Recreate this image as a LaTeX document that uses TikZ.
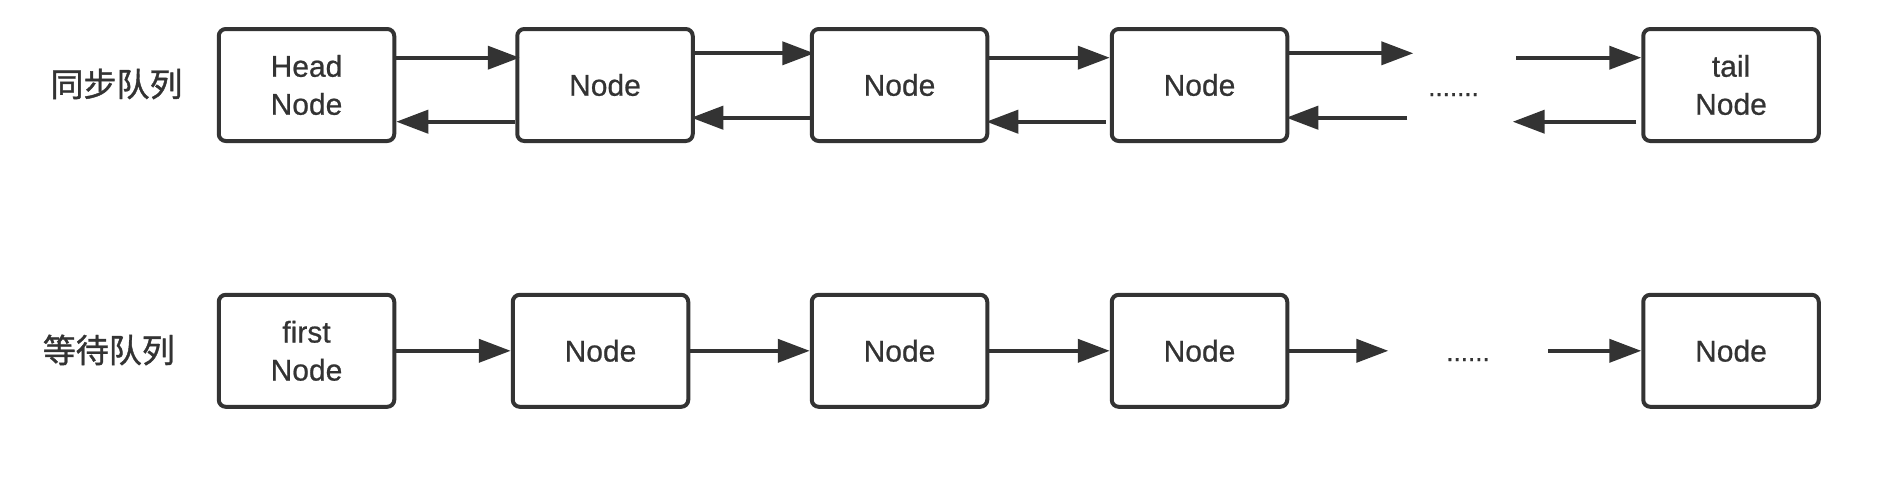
\documentclass[tikz,border=0pt]{standalone}
\usepackage{fontspec}
\setmainfont{Liberation Sans}
\newfontface\nodefont[FakeBold=0.7]{Liberation Sans}
\newfontface\cjk[FakeBold=1.2]{Noto Sans CJK SC}
\usetikzlibrary{arrows.meta}
\definecolor{ink}{HTML}{333333}
\begin{document}
\begin{tikzpicture}[x=1pt,y=-1pt,
  box/.style={draw=ink, line width=4pt, rounded corners=7pt, minimum width=175.5pt, minimum height=112pt, inner sep=0pt, align=center, font=\nodefont\fontsize{30}{38}\selectfont, text=ink},
  arr/.style={draw=ink, line width=4pt, -{Triangle[length=32pt,width=23pt]}},
  lab/.style={font=\cjk\fontsize{33}{40}\selectfont, text=ink},
  ellip/.style={font=\nodefont\fontsize{26}{30}\selectfont, text=ink, anchor=base, inner sep=0pt}]
\useasboundingbox (0,0) rectangle (1896,480);
% labels
\node[lab] (l1) at (116.5,84) {同步队列};
\node[lab] (l2) at (108.8,350) {等待队列};
% top row
\node[box] (h) at (306.5,85) {Head\\Node};
\node[box] (s2) at (605,85) {Node};
\node[box] (s3) at (899.5,85) {Node};
\node[box] (s4) at (1199.5,85) {Node};
\node[box] (t) at (1731,85) {tail\\Node};
\node[ellip] (d1) at (1453.5,96) {.......};
\coordinate (g1) at (1413.3,53.3);
\coordinate (g2) at (1516,57.7);
\coordinate (g3) at (1407.3,117.7);
\coordinate (g4) at (1512.7,121.7);
\draw[arr, shorten >=-4.5pt] ([yshift=27.3pt]h.east) -- ([yshift=27.3pt]s2.west);
\draw[arr, shorten >=-4.5pt] ([yshift=31.7pt]s2.east) -- ([yshift=31.7pt]s3.west);
\draw[arr] ([yshift=27.3pt]s3.east) -- ([yshift=27.3pt]s4.west);
\draw[arr] ([yshift=31.7pt]s4.east) -- (g1);
\draw[arr] (g2) -- ([yshift=27.3pt]t.west);
\draw[arr] ([yshift=-36.7pt]s2.west) -- ([yshift=-36.7pt]h.east);
\draw[arr, shorten >=-3.5pt] ([yshift=-32.7pt]s3.west) -- ([yshift=-32.7pt]s2.east);
\draw[arr, shorten >=-3pt, shorten <=4pt] ([yshift=-36.7pt]s4.west) -- ([yshift=-36.7pt]s3.east);
\draw[arr, shorten >=-3pt] (g3) -- ([yshift=-32.7pt]s4.east);
\draw[arr, shorten <=5pt] ([yshift=-36.7pt]t.west) -- (g4);
% bottom row
\node[box] (f) at (306.5,350.8) {first\\Node};
\node[box] (w2) at (600.5,350.8) {Node};
\node[box] (w3) at (899.5,350.8) {Node};
\node[box] (w4) at (1199.5,350.8) {Node};
\node[box] (w5) at (1731,350.8) {Node};
\node[ellip] (d2) at (1468,361) {......};
\coordinate (g5) at (1388.3,350.8);
\coordinate (g6) at (1548.3,350.8);
\draw[arr] (f.east) -- (w2.west);
\draw[arr] (w2.east) -- (w3.west);
\draw[arr] (w3.east) -- (w4.west);
\draw[arr] (w4.east) -- (g5);
\draw[arr] (g6) -- (w5.west);
\end{tikzpicture}
\end{document}
